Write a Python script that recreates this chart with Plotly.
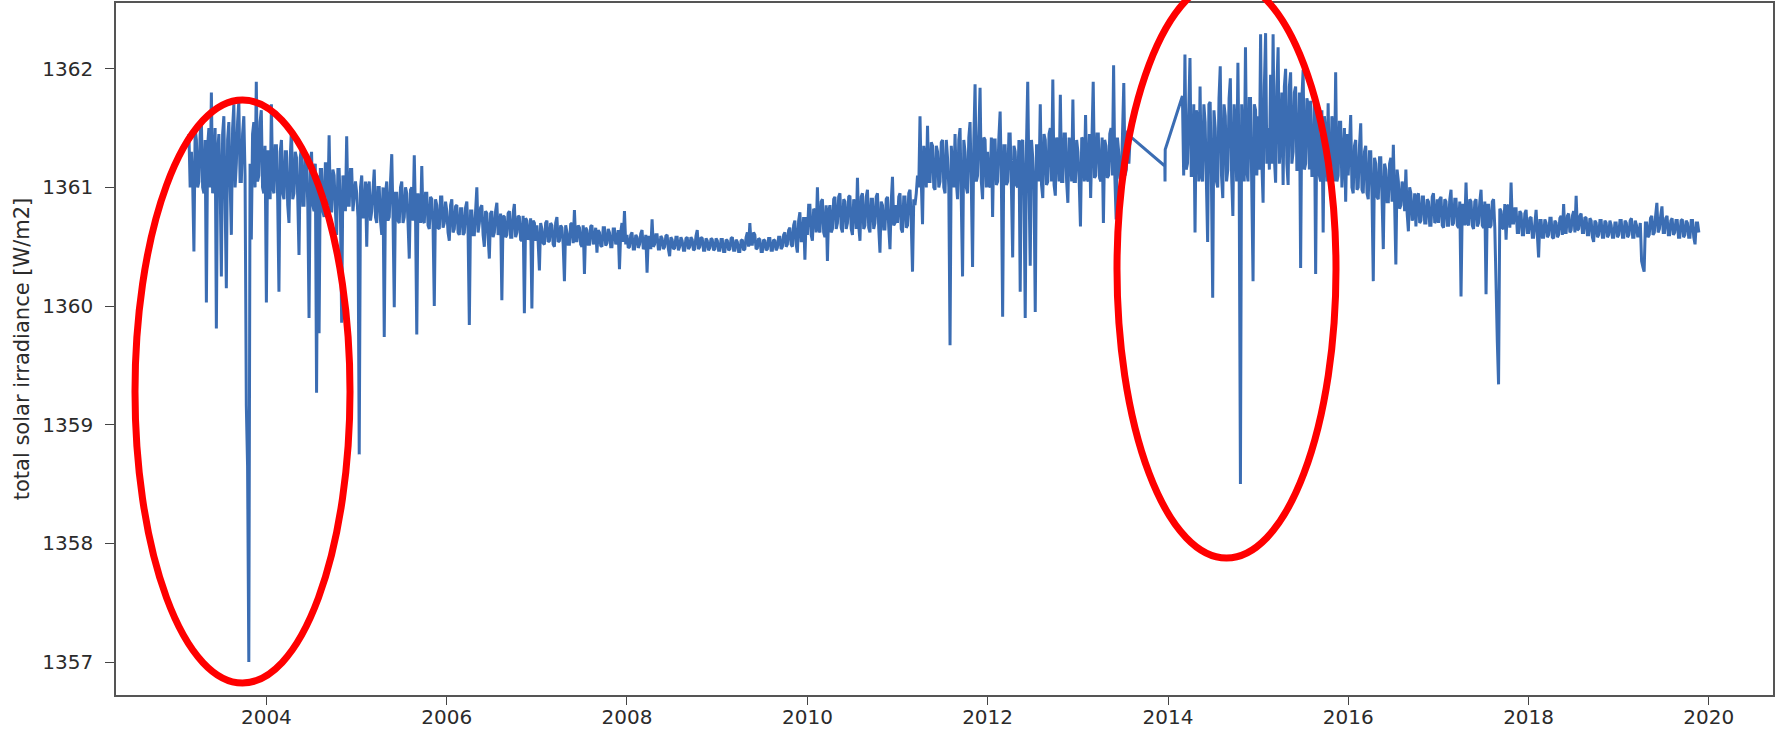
import datetime as dt
import numpy as np
import plotly.graph_objects as go

# ---------------- data ----------------
# Each yearly segment holds two interleaved sample lists (A, B).
SEG_START = [2003.14, 2004.0, 2005.0, 2006.0, 2007.0, 2008.0, 2009.0, 2010.0, 2011.0,
             2012.0, 2013.0, 2014.16, 2015.0, 2016.0, 2017.0, 2018.0, 2019.0]
SEG_END = [2003.985, 2004.986, 2005.986, 2006.986, 2007.986, 2008.986, 2009.986, 2010.986,
           2011.986, 2012.986, 2013.58, 2014.986, 2015.986, 2016.986, 2017.986, 2018.986, 2019.89]

A_2003 = [1361.45, 1361.30, 1360.46, 1361.40, 1361.05, 1361.55, 1360.95, 1360.03, 1361.50, 1361.80,
          1361.10, 1359.81, 1361.45, 1360.25, 1361.60, 1360.15, 1361.55, 1360.60, 1361.70, 1361.20,
          1361.73, 1361.05, 1361.60, 1359.16, 1357.00, 1360.56, 1361.55, 1361.89, 1361.10, 1361.65,
          1360.95]
B_2003 = [1361.00, 1361.05, 1361.50, 1361.00, 1361.45, 1361.00, 1361.40, 1361.35, 1361.00, 1360.95,
          1361.50, 1361.30, 1361.05, 1361.45, 1361.00, 1361.40, 1361.05, 1361.50, 1361.00, 1361.55,
          1361.05, 1361.45, 1361.10, 1358.65, 1361.20, 1361.45, 1361.00, 1361.05, 1361.55, 1361.00,
          1361.35]
A_2004 = [1360.03, 1361.30, 1361.70, 1360.95, 1361.35, 1360.12, 1361.40, 1360.90, 1361.30, 1360.70,
          1361.50, 1360.95, 1361.25, 1360.43, 1361.35, 1360.85, 1361.20, 1359.90, 1361.30, 1360.80,
          1359.27, 1359.77, 1361.15, 1360.75, 1361.20, 1361.44, 1360.80, 1361.10, 1360.60, 1361.15,
          1359.86, 1361.05, 1361.43, 1360.85, 1361.15, 1360.90]
B_2004 = [1361.30, 1360.90, 1361.00, 1361.35, 1360.90, 1361.30, 1360.95, 1361.30, 1360.85, 1361.25,
          1360.90, 1361.30, 1360.90, 1361.25, 1360.85, 1361.30, 1360.85, 1361.20, 1360.85, 1361.20,
          1361.10, 1361.15, 1360.80, 1361.20, 1360.85, 1360.80, 1361.15, 1360.80, 1361.15, 1360.80,
          1361.10, 1360.80, 1360.85, 1361.15, 1360.80, 1361.05]
A_2005 = [1360.95, 1358.75, 1361.10, 1360.75, 1360.50, 1361.05, 1360.80, 1361.15, 1360.70, 1361.00,
          1360.60, 1359.74, 1361.05, 1360.75, 1361.28, 1359.99, 1360.95, 1360.70, 1361.05, 1360.75,
          1360.95, 1360.40, 1361.00, 1361.27, 1359.76, 1360.85, 1361.18, 1360.70, 1360.95, 1360.65,
          1360.90, 1360.00, 1360.85, 1360.65, 1360.92, 1360.70]
B_2005 = [1360.75, 1361.00, 1360.75, 1361.05, 1361.00, 1360.72, 1361.05, 1360.75, 1361.00, 1360.72,
          1361.00, 1360.95, 1360.72, 1361.05, 1360.75, 1360.95, 1360.72, 1361.00, 1360.70, 1361.00,
          1360.70, 1360.98, 1360.72, 1360.75, 1360.95, 1360.70, 1360.72, 1360.95, 1360.68, 1360.92,
          1360.68, 1360.90, 1360.66, 1360.92, 1360.66, 1360.88]
A_2006 = [1360.80, 1360.55, 1360.90, 1360.65, 1360.85, 1360.60, 1360.82, 1360.62, 1360.88, 1359.84,
          1360.80, 1360.60, 1361.00, 1360.70, 1360.85, 1360.50, 1360.78, 1360.40, 1360.80, 1360.62,
          1360.87, 1360.65, 1360.05, 1360.75, 1360.60, 1360.80, 1360.58, 1360.86, 1360.62, 1360.75,
          1360.55, 1359.94, 1360.72, 1360.58, 1359.98, 1360.70]
B_2006 = [1360.62, 1360.85, 1360.62, 1360.84, 1360.62, 1360.82, 1360.60, 1360.83, 1360.62, 1360.80,
          1360.60, 1360.82, 1360.62, 1360.83, 1360.60, 1360.80, 1360.58, 1360.78, 1360.58, 1360.80,
          1360.60, 1360.78, 1360.76, 1360.58, 1360.78, 1360.58, 1360.78, 1360.58, 1360.76, 1360.56,
          1360.76, 1360.74, 1360.56, 1360.74, 1360.72, 1360.55]
A_2007 = [1360.68, 1360.30, 1360.65, 1360.52, 1360.72, 1360.55, 1360.68, 1360.50, 1360.75, 1360.55,
          1360.66, 1360.21, 1360.62, 1360.52, 1360.70, 1360.81, 1360.55, 1360.66, 1360.50, 1360.27,
          1360.64, 1360.52, 1360.68, 1360.55, 1360.45, 1360.62, 1360.50, 1360.66, 1360.53, 1360.62,
          1360.50, 1360.65, 1360.55, 1360.31, 1360.70, 1360.80]
B_2007 = [1360.54, 1360.70, 1360.53, 1360.70, 1360.54, 1360.70, 1360.52, 1360.70, 1360.54, 1360.68,
          1360.52, 1360.68, 1360.52, 1360.69, 1360.53, 1360.55, 1360.68, 1360.52, 1360.68, 1360.66,
          1360.52, 1360.67, 1360.52, 1360.66, 1360.64, 1360.51, 1360.66, 1360.51, 1360.65, 1360.50,
          1360.65, 1360.52, 1360.64, 1360.62, 1360.54, 1360.52]
A_2008 = [1360.60, 1360.50, 1360.62, 1360.48, 1360.58, 1360.52, 1360.64, 1360.50, 1360.28, 1360.58,
          1360.73, 1360.52, 1360.60, 1360.48, 1360.57, 1360.50, 1360.60, 1360.42, 1360.56, 1360.49,
          1360.58, 1360.50, 1360.55, 1360.47, 1360.58, 1360.50, 1360.56, 1360.48, 1360.64, 1360.50,
          1360.57, 1360.47, 1360.55, 1360.49, 1360.56, 1360.48]
B_2008 = [1360.49, 1360.60, 1360.48, 1360.60, 1360.49, 1360.61, 1360.48, 1360.60, 1360.58, 1360.48,
          1360.50, 1360.60, 1360.48, 1360.59, 1360.48, 1360.59, 1360.48, 1360.58, 1360.48, 1360.58,
          1360.47, 1360.58, 1360.47, 1360.57, 1360.48, 1360.58, 1360.47, 1360.59, 1360.48, 1360.58,
          1360.47, 1360.57, 1360.47, 1360.57, 1360.47, 1360.57]
A_2009 = [1360.55, 1360.47, 1360.56, 1360.46, 1360.55, 1360.48, 1360.58, 1360.47, 1360.54, 1360.46,
          1360.56, 1360.48, 1360.62, 1360.70, 1360.52, 1360.60, 1360.49, 1360.56, 1360.46, 1360.55,
          1360.48, 1360.57, 1360.47, 1360.55, 1360.49, 1360.58, 1360.50, 1360.62, 1360.52, 1360.66,
          1360.50, 1360.72, 1360.45, 1360.79, 1360.55, 1360.39]
B_2009 = [1360.47, 1360.56, 1360.46, 1360.56, 1360.47, 1360.57, 1360.47, 1360.56, 1360.46, 1360.55,
          1360.47, 1360.58, 1360.50, 1360.52, 1360.62, 1360.48, 1360.57, 1360.46, 1360.56, 1360.47,
          1360.57, 1360.47, 1360.56, 1360.47, 1360.58, 1360.48, 1360.60, 1360.50, 1360.64, 1360.52,
          1360.68, 1360.52, 1360.72, 1360.55, 1360.75, 1360.75]
A_2010 = [1360.60, 1360.85, 1360.55, 1360.80, 1361.00, 1360.62, 1360.90, 1360.58, 1360.38, 1360.85,
          1360.65, 1360.92, 1360.70, 1360.95, 1360.62, 1360.88, 1360.70, 1360.93, 1360.60, 1360.85,
          1361.08, 1360.55, 1360.95, 1360.68, 1360.98, 1360.62, 1360.90, 1360.70, 1360.95, 1360.45,
          1360.85, 1360.65, 1360.92, 1360.48, 1361.09, 1360.70]
B_2010 = [1360.85, 1360.60, 1360.82, 1360.62, 1360.65, 1360.88, 1360.62, 1360.85, 1360.80, 1360.62,
          1360.90, 1360.65, 1360.92, 1360.66, 1360.90, 1360.65, 1360.92, 1360.65, 1360.90, 1360.65,
          1360.68, 1360.92, 1360.65, 1360.92, 1360.66, 1360.90, 1360.65, 1360.92, 1360.66, 1360.88,
          1360.65, 1360.90, 1360.66, 1360.88, 1360.68, 1360.85]
A_2011 = [1360.70, 1360.95, 1360.62, 1360.92, 1360.68, 1360.98, 1360.29, 1360.85, 1361.10, 1361.60,
          1360.69, 1361.25, 1361.52, 1361.05, 1361.35, 1360.98, 1361.30, 1361.05, 1361.40, 1360.95,
          1361.25, 1359.67, 1361.15, 1361.45, 1360.90, 1361.50, 1360.25, 1361.30, 1360.95, 1361.55,
          1360.33, 1361.87, 1361.10, 1361.84, 1360.90, 1361.40]
B_2011 = [1360.92, 1360.65, 1360.92, 1360.66, 1360.95, 1360.70, 1360.90, 1360.95, 1361.00, 1361.05,
          1361.35, 1361.00, 1361.05, 1361.38, 1361.00, 1361.35, 1361.00, 1361.38, 1361.00, 1361.40,
          1361.00, 1361.35, 1361.00, 1361.05, 1361.40, 1361.00, 1361.40, 1361.00, 1361.42, 1361.02,
          1361.40, 1361.05, 1361.45, 1361.05, 1361.42, 1361.00]
A_2012 = [1361.30, 1361.00, 1360.75, 1361.40, 1361.05, 1361.64, 1359.91, 1361.35, 1361.05, 1361.45,
          1360.41, 1361.30, 1361.00, 1360.12, 1361.40, 1359.90, 1361.89, 1360.34, 1361.25, 1359.95,
          1361.35, 1361.70, 1360.91, 1361.40, 1361.05, 1361.50, 1361.91, 1360.93, 1361.35, 1361.78,
          1361.05, 1361.45, 1360.87, 1361.30, 1361.74, 1361.05]
B_2012 = [1361.02, 1361.42, 1361.40, 1361.02, 1361.42, 1361.05, 1361.35, 1361.02, 1361.45, 1361.00,
          1361.35, 1361.02, 1361.40, 1361.38, 1361.00, 1361.35, 1361.05, 1361.40, 1361.00, 1361.35,
          1361.05, 1361.02, 1361.45, 1361.02, 1361.45, 1361.05, 1361.02, 1361.42, 1361.05, 1361.05,
          1361.45, 1361.05, 1361.42, 1361.05, 1361.05, 1361.40]
A_2013 = [1361.30, 1360.67, 1361.40, 1361.61, 1361.05, 1360.91, 1361.89, 1361.10, 1361.45, 1361.05,
          1360.70, 1361.35, 1361.10, 1361.50, 1362.03, 1360.73, 1361.30, 1361.05, 1361.88, 1361.15,
          1361.20]
B_2013 = [1361.05, 1361.42, 1361.05, 1361.08, 1361.45, 1361.40, 1361.08, 1361.45, 1361.08, 1361.42,
          1361.40, 1361.08, 1361.45, 1361.10, 1361.08, 1361.42, 1361.08, 1361.45, 1361.10, 1361.48,
          1361.43]
A_2014 = [1361.77, 1362.12, 1361.20, 1362.09, 1361.10, 1360.62, 1361.60, 1361.85, 1361.05, 1361.55,
          1360.54, 1361.72, 1360.07, 1361.50, 1361.00, 1362.02, 1360.91, 1361.60, 1361.15, 1361.92,
          1360.76, 1361.50, 1362.05, 1358.50, 1361.40, 1362.18, 1361.05, 1361.75, 1360.21, 1361.65]
B_2014 = [1361.10, 1361.15, 1361.75, 1361.10, 1361.70, 1361.65, 1361.05, 1361.10, 1361.70, 1361.05,
          1361.70, 1361.05, 1361.65, 1361.05, 1361.75, 1361.10, 1361.70, 1361.05, 1361.75, 1361.10,
          1361.70, 1361.05, 1361.10, 1361.70, 1361.05, 1361.15, 1361.75, 1361.10, 1361.70, 1361.10]
A_2015 = [1361.60, 1362.29, 1360.87, 1362.30, 1361.50, 1361.95, 1362.29, 1361.04, 1362.18, 1361.40,
          1361.02, 1362.00, 1361.02, 1361.97, 1361.30, 1361.85, 1361.15, 1360.32, 1361.99, 1361.20,
          1361.70, 1361.73, 1361.10, 1360.27, 1361.55, 1361.05, 1360.62, 1361.45, 1361.71, 1361.00,
          1361.50, 1361.97, 1361.10, 1361.55, 1361.20, 1360.88]
B_2015 = [1361.15, 1361.20, 1361.85, 1361.20, 1361.15, 1361.20, 1361.25, 1361.85, 1361.20, 1361.80,
          1361.85, 1361.20, 1361.85, 1361.20, 1361.80, 1361.15, 1361.80, 1361.75, 1361.15, 1361.75,
          1361.15, 1361.10, 1361.70, 1361.65, 1361.10, 1361.65, 1361.60, 1361.05, 1361.05, 1361.60,
          1361.05, 1361.05, 1361.55, 1361.00, 1361.50, 1361.45]
A_2016 = [1361.10, 1361.61, 1360.95, 1361.40, 1361.00, 1361.54, 1360.95, 1361.35, 1360.90, 1361.30,
          1360.21, 1361.20, 1360.90, 1361.25, 1360.48, 1361.15, 1360.88, 1361.25, 1361.36, 1360.35,
          1361.05, 1360.85, 1361.00, 1361.15, 1360.63, 1360.95, 1360.75, 1360.67, 1360.95, 1360.72,
          1360.92, 1360.70, 1360.88, 1360.68, 1360.95, 1360.72]
B_2016 = [1361.40, 1361.00, 1361.35, 1360.98, 1361.35, 1360.98, 1361.30, 1360.95, 1361.30, 1360.92,
          1361.25, 1360.92, 1361.25, 1360.90, 1361.20, 1360.88, 1361.20, 1360.88, 1360.88, 1361.15,
          1360.82, 1361.05, 1360.80, 1360.78, 1361.00, 1360.72, 1360.95, 1360.92, 1360.70, 1360.92,
          1360.70, 1360.90, 1360.68, 1360.92, 1360.70, 1360.90]
A_2017 = [1360.70, 1360.92, 1360.66, 1360.88, 1360.68, 1360.98, 1360.70, 1360.90, 1360.66, 1360.08,
          1360.85, 1361.04, 1360.68, 1360.88, 1360.65, 1360.90, 1360.70, 1360.98, 1360.66, 1360.10,
          1360.85, 1360.68, 1360.90, 1360.01, 1359.34, 1360.80, 1360.65, 1360.56, 1360.85, 1361.04,
          1360.70, 1360.82, 1360.62, 1360.78, 1360.60, 1360.81]
B_2017 = [1360.90, 1360.68, 1360.90, 1360.68, 1360.90, 1360.68, 1360.90, 1360.68, 1360.88, 1360.85,
          1360.68, 1360.70, 1360.90, 1360.68, 1360.88, 1360.67, 1360.88, 1360.68, 1360.88, 1360.85,
          1360.66, 1360.88, 1360.66, 1359.70, 1360.82, 1360.66, 1360.86, 1360.84, 1360.66, 1360.70,
          1360.82, 1360.62, 1360.80, 1360.60, 1360.78, 1360.62]
A_2018 = [1360.62, 1360.75, 1360.58, 1360.81, 1360.41, 1360.72, 1360.58, 1360.70, 1360.60, 1360.74,
          1360.57, 1360.70, 1360.60, 1360.76, 1360.86, 1360.62, 1360.78, 1360.64, 1360.80, 1360.93,
          1360.65, 1360.78, 1360.62, 1360.74, 1360.60, 1360.72, 1360.54, 1360.70, 1360.60, 1360.72,
          1360.58, 1360.70, 1360.60, 1360.68, 1360.58, 1360.70]
B_2018 = [1360.74, 1360.58, 1360.74, 1360.60, 1360.72, 1360.58, 1360.73, 1360.58, 1360.74, 1360.58,
          1360.72, 1360.58, 1360.74, 1360.60, 1360.62, 1360.76, 1360.62, 1360.76, 1360.62, 1360.64,
          1360.76, 1360.62, 1360.75, 1360.60, 1360.74, 1360.58, 1360.72, 1360.58, 1360.72, 1360.58,
          1360.72, 1360.58, 1360.72, 1360.58, 1360.70, 1360.58]
A_2019 = [1360.60, 1360.72, 1360.58, 1360.70, 1360.60, 1360.74, 1360.58, 1360.68, 1360.62, 1360.38,
          1360.29, 1360.70, 1360.60, 1360.76, 1360.62, 1360.87, 1360.65, 1360.84, 1360.62, 1360.76,
          1360.60, 1360.74, 1360.62, 1360.72, 1360.58, 1360.73, 1360.60, 1360.70, 1360.58, 1360.72,
          1360.52, 1360.70]
B_2019 = [1360.72, 1360.58, 1360.72, 1360.58, 1360.72, 1360.58, 1360.72, 1360.58, 1360.70, 1360.33,
          1360.70, 1360.58, 1360.74, 1360.60, 1360.76, 1360.62, 1360.76, 1360.62, 1360.74, 1360.60,
          1360.72, 1360.60, 1360.72, 1360.58, 1360.72, 1360.58, 1360.72, 1360.58, 1360.72, 1360.58,
          1360.70, 1360.62]

# the data gap at the end of 2013 (few isolated samples)
GAP_T = [2013.965, 2013.967, 2013.969]
GAP_V = [1361.18, 1361.05, 1361.32]

Y_TICKS = [1357, 1358, 1359, 1360, 1361, 1362]
X_TICK_YEARS = [2004, 2006, 2008, 2010, 2012, 2014, 2016, 2018, 2020]
Y_TITLE = "total solar irradiance [W/m2]"

SEGMENTS = [(A_2003, B_2003), (A_2004, B_2004), (A_2005, B_2005), (A_2006, B_2006),
            (A_2007, B_2007), (A_2008, B_2008), (A_2009, B_2009), (A_2010, B_2010),
            (A_2011, B_2011), (A_2012, B_2012), (A_2013, B_2013), (A_2014, B_2014),
            (A_2015, B_2015), (A_2016, B_2016), (A_2017, B_2017), (A_2018, B_2018),
            (A_2019, B_2019)]


def to_dt(y):
    yr = int(np.floor(y))
    a = dt.datetime(yr, 1, 1)
    b = dt.datetime(yr + 1, 1, 1)
    return a + (b - a) * (y - yr)


times, vals = [], []
for k, (a_vals, b_vals) in enumerate(SEGMENTS):
    seg = [v for pair in zip(a_vals, b_vals) for v in pair]
    ts = np.linspace(SEG_START[k], SEG_END[k], len(seg))
    times.extend(to_dt(t) for t in ts)
    vals.extend(seg)
    if SEG_START[k] == 2013.0:
        times.extend(to_dt(t) for t in GAP_T)
        vals.extend(GAP_V)

# ---------------- figure ----------------
W, H = 1781, 731
L, R, T, B = 116, 8, 3, 36
PW, PH = W - L - R, H - T - B

LINE = "#3b6db3"
TXT = "#2b2b2b"
FONT = "DejaVu Sans"

fig = go.Figure()
fig.add_trace(go.Scatter(x=times, y=vals, mode="lines",
                         line=dict(color=LINE, width=3.0), hoverinfo="skip",
                         showlegend=False))


def px_x(p):
    return (p - L) / PW


def px_y(p):
    return (H - B - p) / PH


# red hand-drawn ellipses (annotation)
for (x0, x1, y0, y1) in [(135, 350, 100, 683), (1117, 1336, -20, 558)]:
    fig.add_shape(type="circle", xref="paper", yref="paper",
                  x0=px_x(x0), x1=px_x(x1), y0=px_y(y1), y1=px_y(y0),
                  line=dict(color="#ff0000", width=7), layer="above")

fig.update_layout(
    width=W, height=H,
    margin=dict(l=L, r=R, t=T, b=B, pad=0, autoexpand=False),
    paper_bgcolor="white", plot_bgcolor="white",
    font=dict(family=FONT, size=20, color=TXT),
    showlegend=False,
)

fig.update_xaxes(
    type="date", automargin=False,
    range=[to_dt(2002.3306), to_dt(2020.711)],
    tickvals=[dt.datetime(y, 1, 1) for y in X_TICK_YEARS],
    ticktext=[str(y) for y in X_TICK_YEARS],
    ticks="outside", ticklen=8, tickwidth=1.3, tickcolor="#444444",
    showline=True, linecolor="#555555", linewidth=1.5, mirror=True,
    showgrid=False, zeroline=False,
    tickfont=dict(family=FONT, size=20, color=TXT),
    ticklabelstandoff=-5,
)
fig.update_yaxes(
    automargin=False,
    range=[1356.722, 1362.554],
    tickvals=Y_TICKS,
    ticks="outside", ticklen=9, tickwidth=1.3, tickcolor="#444444",
    showline=True, linecolor="#555555", linewidth=1.5, mirror=True,
    showgrid=False, zeroline=False,
    tickfont=dict(family=FONT, size=20, color=TXT),
    ticklabelstandoff=8,
    title=dict(text=Y_TITLE, font=dict(family=FONT, size=21, color=TXT), standoff=7),
)

fig.write_html("out.html", config={"displayModeBar": False},
               post_script="document.body.style.margin='0';document.body.style.overflow='hidden';")
